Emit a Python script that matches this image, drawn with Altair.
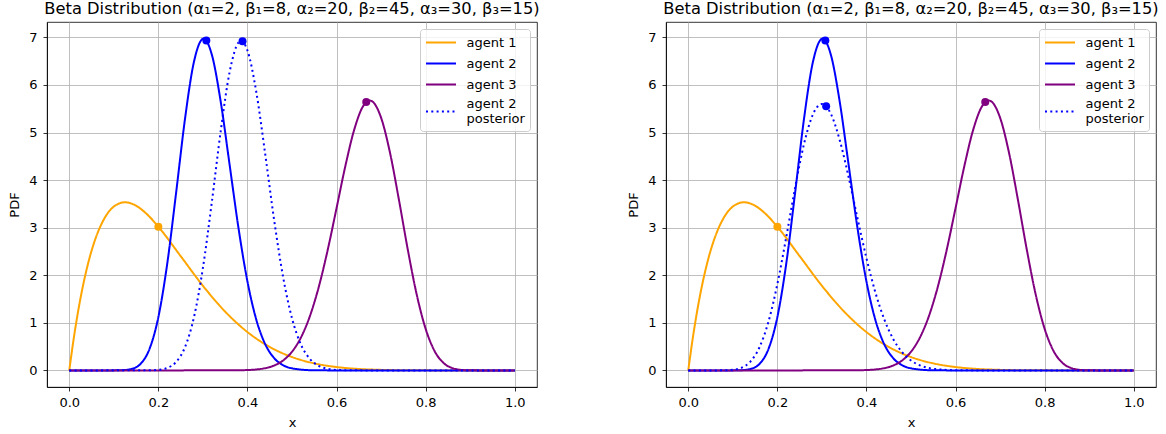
import altair as alt
import pandas as pd

TITLE = "Beta Distribution (α₁=2, β₁=8, α₂=20, β₂=45, α₃=30, β₃=15)"
SERIES = ["agent 1", "agent 2", "agent 3", "agent 2 posterior"]
COLORS = ["orange", "blue", "purple", "blue"]
DASHES = [[1, 0], [1, 0], [1, 0], [2, 3.3]]
X_TICKS = [0.0, 0.2, 0.4, 0.6, 0.8, 1.0]
Y_TICKS = [0, 1, 2, 3, 4, 5, 6, 7]

# agent 1
X1 = [0, 0.01, 0.02, 0.03, 0.04, 0.05, 0.06, 0.08, 0.10, 0.125, 0.15, 0.175, 0.20,
      0.25, 0.30, 0.35, 0.40, 0.45, 0.50, 0.55, 0.60, 0.65, 0.70, 0.75, 0.80, 0.85, 0.90, 1.0]
PDF1 = [0, 0.671, 1.250, 1.745, 2.164, 2.514, 2.801, 3.213, 3.444, 3.534, 3.462, 3.278, 3.020,
        2.403, 1.779, 1.235, 0.806, 0.493, 0.281, 0.148, 0.071, 0.030, 0.011, 0.0033, 0.0007, 0.0001, 0.0, 0.0]

# agent 2
X2 = [0, 0.08, 0.10, 0.12, 0.14, 0.16, 0.18, 0.20, 0.22, 0.24, 0.26, 0.28, 0.3016, 0.32,
      0.34, 0.36, 0.38, 0.40, 0.42, 0.44, 0.46, 0.48, 0.50, 0.55, 0.60, 1.0]
PDF2 = [0, 0.0, 0.0004, 0.0045, 0.031, 0.138, 0.449, 1.120, 2.249, 3.746, 5.302, 6.492, 6.975, 6.638,
        5.647, 4.320, 2.985, 1.869, 1.062, 0.549, 0.258, 0.110, 0.043, 0.0025, 0.0001, 0]

# agent 3
X3 = [0, 0.36, 0.40, 0.42, 0.44, 0.46, 0.48, 0.50, 0.52, 0.54, 0.56, 0.58, 0.60, 0.62, 0.64, 0.66,
      0.6744, 0.68, 0.70, 0.72, 0.74, 0.76, 0.78, 0.80, 0.82, 0.84, 0.86, 0.88, 0.90, 0.93, 1.0]
PDF3 = [0, 0.0009, 0.0078, 0.0199, 0.0470, 0.1026, 0.2079, 0.3921, 0.6904, 1.1366, 1.7516, 2.5265,
        3.4107, 4.3049, 5.0708, 5.5604, 5.673, 5.656, 5.311, 4.576, 3.589, 2.536, 1.593, 0.874,
        0.409, 0.158, 0.048, 0.011, 0.0016, 0.0001, 0]

# agent 2 posterior, left panel
XPL = [0, 0.18, 0.20, 0.22, 0.24, 0.26, 0.28, 0.30, 0.32, 0.34, 0.36, 0.38, 0.3857, 0.40, 0.42,
       0.44, 0.46, 0.48, 0.50, 0.52, 0.54, 0.56, 0.58, 0.60, 0.65, 1.0]
PDFPL = [0, 0.002, 0.0118, 0.0521, 0.1788, 0.4930, 1.1223, 2.1533, 3.5362, 5.034, 6.273, 6.896, 6.929,
         6.725, 5.844, 4.538, 3.155, 1.9645, 1.0951, 0.5459, 0.2425, 0.0957, 0.0334, 0.0102, 0.0005, 0]

# agent 2 posterior, right panel
XPR = [0, 0.06, 0.08, 0.10, 0.12, 0.14, 0.16, 0.18, 0.20, 0.22, 0.24, 0.26, 0.28, 0.30, 0.32, 0.34,
       0.36, 0.38, 0.40, 0.42, 0.44, 0.46, 0.48, 0.50, 0.52, 0.55, 0.60, 0.65, 1.0]
PDFPR = [0, 0.0001, 0.0015, 0.0120, 0.0569, 0.1904, 0.4890, 1.0234, 1.8150, 2.8035, 3.8488, 4.766,
         5.385, 5.600, 5.396, 4.841, 4.061, 3.194, 2.360, 1.6405, 1.0732, 0.6609, 0.3829, 0.2084,
         0.1064, 0.0342, 0.0036, 0.0003, 0]

# marker points (means)
DOT_X = [0.2, 0.3077, 0.6667]
DOT_PDF = [3.020, 6.936, 5.640]
POST_DOT_LEFT = (0.3889, 6.919)
POST_DOT_RIGHT = (0.3095, 5.552)

FONT = "DejaVu Sans"


def panel(xp, yp, post_dot):
    rows = []
    for s, xs, ys in [(SERIES[0], X1, PDF1), (SERIES[1], X2, PDF2),
                      (SERIES[2], X3, PDF3), (SERIES[3], xp, yp)]:
        for i, (x, y) in enumerate(zip(xs, ys)):
            rows.append({"series": s, "x": x, "pdf": y, "i": i})
    lines_df = pd.DataFrame(rows)
    dots_df = pd.DataFrame({
        "x": DOT_X + [post_dot[0]],
        "pdf": DOT_PDF + [post_dot[1]],
        "col": COLORS[:3] + [COLORS[3]],
    })
    xsc = alt.Scale(domain=[-0.05, 1.05], nice=False, zero=False)
    ysc = alt.Scale(domain=[-0.349, 7.324], nice=False, zero=False)
    xax = alt.Axis(title="x", values=X_TICKS, format=".1f", labelFlush=False)
    yax = alt.Axis(title="PDF", values=Y_TICKS, format="d")
    leg = alt.Legend(
        orient="top-right", title=None, symbolType="M-2,0H2", symbolSize=225,
        symbolOffset=7.5, symbolStrokeWidth=2, labelFontSize=13, labelFont=FONT,
        labelColor="black",
        labelBaseline=alt.ExprRef("datum.label == 'agent 2 posterior' ? 'line-bottom' : 'middle'"),
        fillColor="rgba(255,255,255,0.8)", strokeColor="#cccccc", padding=5,
        cornerRadius=3, offset=7, rowPadding=5, labelOffset=17,
        labelExpr="datum.label == 'agent 2 posterior' ? ['agent 2', 'posterior'] : datum.label",
    )
    lines = alt.Chart(lines_df).mark_line(strokeWidth=2, interpolate="monotone", strokeCap="butt").encode(
        x=alt.X("x:Q", scale=xsc, axis=xax),
        y=alt.Y("pdf:Q", scale=ysc, axis=yax),
        color=alt.Color("series:N", scale=alt.Scale(domain=SERIES, range=COLORS), legend=leg),
        strokeDash=alt.StrokeDash("series:N", scale=alt.Scale(domain=SERIES, range=DASHES), legend=leg),
        order="i:Q",
    )
    dots = alt.Chart(dots_df).mark_circle(size=64, opacity=1).encode(
        x=alt.X("x:Q", scale=xsc),
        y=alt.Y("pdf:Q", scale=ysc),
        color=alt.Color("col:N", scale=None),
    )
    return alt.layer(lines, dots).properties(
        width=490, height=365,
        title=alt.TitleParams(TITLE, fontSize=16.3, fontWeight="normal", font=FONT,
                              offset=5, color="black", anchor="middle"),
    )


left = panel(XPL, PDFPL, POST_DOT_LEFT)
right = panel(XPR, PDFPR, POST_DOT_RIGHT)

chart = alt.hconcat(left, right, spacing=129, bounds="flush").resolve_scale(
    color="independent", strokeDash="independent"
).resolve_legend(
    color="independent", strokeDash="independent"
).properties(
    padding={"left": 8, "top": 0, "right": 0, "bottom": 0}
).configure(font=FONT).configure_view(
    stroke="black", strokeWidth=0.8
).configure_axis(
    labelFont=FONT, titleFont=FONT, labelFontSize=13, titleFontSize=13,
    titleFontWeight="normal", labelColor="black", titleColor="black",
    tickSize=4, tickColor="black", tickWidth=0.8, labelPadding=6,
    domainColor="black", domainWidth=0.8,
    grid=True, gridColor="#b0b0b0", gridWidth=0.8,
).configure_axisY(titlePadding=7).configure_axisX(titlePadding=7, labelPadding=5.5)

chart.save("out.html", embed_options={"renderer": "svg", "actions": False})
